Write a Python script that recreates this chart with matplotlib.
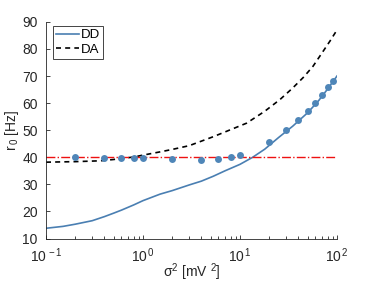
import matplotlib
matplotlib.use('Agg')
import matplotlib.pyplot as plt
from matplotlib.ticker import LogLocator, NullFormatter

# valeurs
sigma_dd = [0.1, 0.15, 0.2, 0.3, 0.4, 0.5, 0.6, 0.8, 1, 1.5, 2, 3, 4, 5.3, 7,
            10, 13.5, 18, 25, 35, 50, 65, 80, 100]
r0_dd = [13.8, 14.5, 15.3, 16.6, 18.1, 19.4, 20.5, 22.4, 24.0, 26.4, 27.7, 29.8,
         31.2, 33.0, 35.0, 37.4, 40.0, 43.0, 47.3, 51.5, 56.5, 61.0, 65.2, 70.0]

sigma_da = [0.1, 0.2, 0.36, 0.5, 0.8, 1, 1.5, 2, 3, 5.3, 8, 11.7, 18, 25.8, 35,
            45, 56.6, 70, 85, 100]
r0_da = [38.2, 38.4, 38.7, 39.2, 40.1, 40.8, 42.0, 42.9, 44.3, 47.6, 50.2, 52.6,
         57.0, 61.3, 65.6, 69.5, 73.6, 78.5, 83.0, 87.0]

sigma_sim = [0.2, 0.4, 0.6, 0.8, 1, 2, 4, 6, 8, 10, 20, 30, 40, 50, 60, 70, 80, 90]
r0_sim = [40.1, 39.8, 39.8, 39.7, 39.6, 39.3, 39.1, 39.4, 40.2, 40.9,
          45.7, 50.0, 53.7, 57.2, 60.2, 63.1, 66.0, 68.3]

r0_ref = 40


def main():
    plt.rcParams['font.family'] = ['Liberation Sans', 'DejaVu Sans']
    plt.rcParams['mathtext.fontset'] = 'custom'
    plt.rcParams['mathtext.rm'] = 'Liberation Sans'
    plt.rcParams['mathtext.it'] = 'Liberation Sans'

    fig = plt.figure(figsize=(3.74, 2.84), dpi=100)
    ax = fig.add_axes([0.123, 0.160, 0.778, 0.763])

    bleu = '#4a7fb2'
    ax.plot(sigma_dd, r0_dd, color=bleu, lw=1.2, label='DD')
    ax.plot(sigma_da, r0_da, color='k', lw=1.2, ls=(0, (3, 2.5)), label='DA')
    ax.axhline(r0_ref, color='#ee1111', lw=1.0, ls='-.')
    ax.plot(sigma_sim, r0_sim, 'o', color='#4f86b8', ms=5, mec='none')

    ax.set_xscale('log')
    ax.set_xlim(0.1, 100)
    ax.set_ylim(10, 90)
    ax.set_yticks(range(10, 91, 10))
    ax.xaxis.set_minor_locator(LogLocator(base=10, subs=range(2, 10)))
    ax.xaxis.set_minor_formatter(NullFormatter())
    ax.set_xticks([0.1, 1, 10, 100])
    ax.set_xticklabels(['10$^{\\,-1}$', '10$^{\\,0}$', '10$^{\\,1}$', '10$^{\\,2}$'])

    for side in ['top', 'right']:
        ax.spines[side].set_visible(False)
    for side in ['left', 'bottom']:
        ax.spines[side].set_color('#262626')
        ax.spines[side].set_linewidth(0.6)
    ax.tick_params(which='both', direction='in', colors='#262626', labelsize=10,
                   width=0.6)
    ax.tick_params(which='major', length=3)
    ax.tick_params(which='minor', length=2)
    ax.tick_params(axis='x', pad=6)
    ax.tick_params(axis='y', pad=6)

    ax.set_xlabel('σ$^2$ [mV $^2$]', fontsize=10, color='#262626', labelpad=-3)
    ax.set_ylabel('r$_{\\,0}$ [Hz]', fontsize=10, color='#262626', labelpad=1)

    leg = ax.legend(loc='upper left', fontsize=9.5, handlelength=1.7,
                    handletextpad=0.15, borderpad=0.25, labelspacing=0.15,
                    borderaxespad=0.3, fancybox=False, edgecolor='#262626',
                    framealpha=1, bbox_to_anchor=(0.01, 1.0))
    leg.get_frame().set_linewidth(0.6)

    fig.savefig('out.png', dpi=100)


if __name__ == '__main__':
    main()
